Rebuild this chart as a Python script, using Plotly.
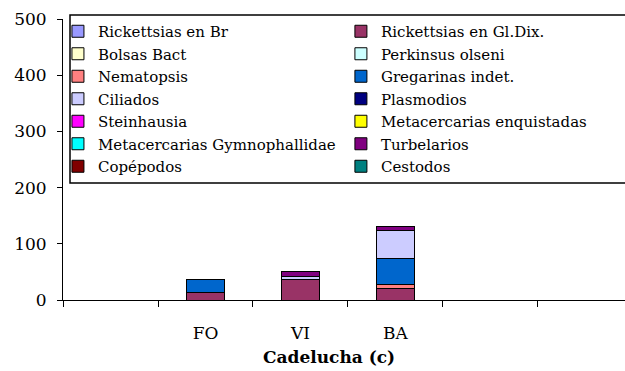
import plotly.graph_objects as go

# Sites on the category axis (blank slots keep the empty intervals)
categories = [" ", "FO", "VI", "BA", "  ", "   "]

# Series, in stacking order (bottom to top), values per site
series_names = [
    "Rickettsias en Br", "Rickettsias en Gl.Dix.",
    "Bolsas Bact", "Perkinsus olseni",
    "Nematopsis", "Gregarinas indet.",
    "Ciliados", "Plasmodios",
    "Steinhausia", "Metacercarias enquistadas",
    "Metacercarias Gymnophallidae", "Turbelarios",
    "Copépodos", "Cestodos",
]
series_colors = [
    "#9999FF", "#993366",
    "#FFFFCC", "#CCFFFF",
    "#FF8080", "#0066CC",
    "#CCCCFF", "#000080",
    "#FF00FF", "#FFFF00",
    "#00FFFF", "#800080",
    "#800000", "#008080",
]
rickettsias_br = [None, None, None, None, None, None]
rickettsias_gldix = [None, 13, 37, 20, None, None]
bolsas_bact = [None, None, None, None, None, None]
perkinsus = [None, None, None, None, None, None]
nematopsis = [None, None, None, 8, None, None]
gregarinas = [None, 24, None, 46, None, None]
ciliados = [None, None, 5, 49, None, None]
plasmodios = [None, None, None, None, None, None]
steinhausia = [None, None, None, None, None, None]
metac_enq = [None, None, None, None, None, None]
metac_gym = [None, None, None, None, None, None]
turbelarios = [None, None, 9, 7, None, None]
copepodos = [None, None, None, None, None, None]
cestodos = [None, None, None, None, None, None]

series_values = [
    rickettsias_br, rickettsias_gldix, bolsas_bact, perkinsus,
    nematopsis, gregarinas, ciliados, plasmodios,
    steinhausia, metac_enq, metac_gym, turbelarios,
    copepodos, cestodos,
]

y_ticks = [0, 100, 200, 300, 400, 500]

FONT = "DejaVu Serif"

fig = go.Figure()
for i, (name, color, vals) in enumerate(zip(series_names, series_colors, series_values)):
    fig.add_trace(go.Bar(
        x=categories, y=vals, name=name,
        marker=dict(color=color, line=dict(color="black", width=1)),
        legend="legend" if i % 2 == 0 else "legend2",
    ))

legend_common = dict(
    font=dict(family=FONT, size=15, color="black"),
    bgcolor="rgba(0,0,0,0)", borderwidth=0,
    orientation="v", traceorder="normal",
    xanchor="left", yanchor="top", y=1.0142,
)

fig.update_layout(
    width=625, height=371,
    margin=dict(l=63, r=0, t=19, b=71, autoexpand=False),
    paper_bgcolor="white", plot_bgcolor="white",
    barmode="stack", bargap=0.6,
    showlegend=True,
    legend=dict(x=-0.009, **legend_common),
    legend2=dict(x=0.4945, **legend_common),
    font=dict(family=FONT, color="black"),
    xaxis=dict(
        type="category", categoryorder="array", categoryarray=categories,
        range=[-0.5, 5.416], tickson="boundaries",
        showline=True, linecolor="black", linewidth=1,
        ticks="outside", ticklen=6, tickcolor="black",
        tickfont=dict(family=FONT, size=17, color="black"),
        ticklabelstandoff=18,
        showgrid=False, zeroline=False,
    ),
    yaxis=dict(
        range=[0, 500], tickvals=y_ticks,
        showline=True, linecolor="black", linewidth=1,
        ticks="outside", ticklen=5, tickcolor="black",
        tickfont=dict(family=FONT, size=17, color="black"),
        ticklabelstandoff=7,
        showgrid=False, zeroline=False,
    ),
    shapes=[dict(
        type="rect", xref="paper", yref="paper",
        x0=0.01246, x1=1.02, y0=0.4164, y1=1.0142,
        line=dict(color="black", width=1.5), layer="above",
    )],
    annotations=[dict(
        text="<b>Cadelucha (c)</b>", xref="paper", yref="paper",
        x=0.473, y=-0.202, xanchor="center", yanchor="middle",
        showarrow=False, font=dict(family=FONT, size=17, color="black"),
    )],
)

fig.write_html("out.html")
